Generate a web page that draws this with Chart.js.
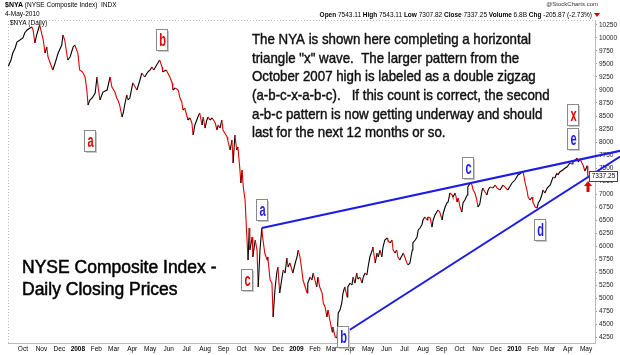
<!DOCTYPE html>
<html><head><meta charset="utf-8">
<script src="https://cdn.jsdelivr.net/npm/chart.js@4.4.1/dist/chart.umd.min.js"></script>
<style>html,body{margin:0;padding:0;background:#fff;}#wrap{width:620px;height:355px;}</style>
</head><body><div id="wrap"><canvas id="c" width="620" height="355"></canvas></div>
<script>
const dates = [
'2007-09-06','2007-09-11','2007-09-14','2007-09-18','2007-09-21','2007-09-26','2007-10-01','2007-10-04','2007-10-08','2007-10-13',
'2007-10-16','2007-10-18','2007-10-21','2007-10-24','2007-10-29','2007-11-02','2007-11-04','2007-11-07','2007-11-10','2007-11-12',
'2007-11-15','2007-11-20','2007-11-24','2007-11-29','2007-12-05','2007-12-07','2007-12-10','2007-12-15','2007-12-19','2007-12-24',
'2007-12-27','2007-12-30','2008-01-01','2008-01-04','2008-01-09','2008-01-13','2008-01-16','2008-01-18','2008-01-21','2008-01-25',
'2008-01-30','2008-02-02','2008-02-04','2008-02-07','2008-02-12','2008-02-19','2008-02-24','2008-02-27','2008-03-03','2008-03-06',
'2008-03-08','2008-03-11','2008-03-15','2008-03-17','2008-03-20','2008-03-23','2008-03-25','2008-03-28','2008-04-02','2008-04-06',
'2008-04-09','2008-04-14','2008-04-17','2008-04-22','2008-04-27','2008-05-01','2008-05-04','2008-05-07','2008-05-12','2008-05-17',
'2008-05-21','2008-05-22','2008-05-28','2008-06-03','2008-06-07','2008-06-08','2008-06-12','2008-06-17','2008-06-20','2008-06-23',
'2008-06-25','2008-06-28','2008-07-02','2008-07-03','2008-07-07','2008-07-10','2008-07-12','2008-07-15','2008-07-20','2008-07-23',
'2008-07-27','2008-07-29','2008-08-01','2008-08-04','2008-08-06','2008-08-09','2008-08-13','2008-08-18','2008-08-21','2008-08-23',
'2008-08-26','2008-08-29','2008-08-31','2008-09-03','2008-09-07','2008-09-08','2008-09-12','2008-09-15','2008-09-17','2008-09-20',
'2008-09-23','2008-09-25','2008-09-28','2008-09-30','2008-10-02','2008-10-04','2008-10-07','2008-10-10','2008-10-12','2008-10-14',
'2008-10-15','2008-10-19','2008-10-20','2008-10-24','2008-10-27','2008-10-29','2008-11-01','2008-11-04','2008-11-06','2008-11-09',
'2008-11-13','2008-11-14','2008-11-18','2008-11-21','2008-11-23','2008-11-26','2008-11-29','2008-12-01','2008-12-04','2008-12-08',
'2008-12-10','2008-12-13','2008-12-16','2008-12-18','2008-12-21','2008-12-26','2008-12-30','2009-01-02','2009-01-04','2009-01-07',
'2009-01-10','2009-01-12','2009-01-19','2009-01-20','2009-01-24','2009-01-27','2009-01-29','2009-02-01','2009-02-04','2009-02-06',
'2009-02-09','2009-02-13','2009-02-15','2009-02-18','2009-02-21','2009-02-23','2009-02-26','2009-03-02','2009-03-03','2009-03-07',
'2009-03-10','2009-03-12','2009-03-15','2009-03-18','2009-03-20','2009-03-23','2009-03-27','2009-03-28','2009-04-01','2009-04-04',
'2009-04-06','2009-04-09','2009-04-12','2009-04-14','2009-04-17','2009-04-21','2009-04-23','2009-04-26','2009-04-29','2009-05-01',
'2009-05-04','2009-05-08','2009-05-09','2009-05-13','2009-05-16','2009-05-18','2009-05-21','2009-05-24','2009-05-26','2009-05-29',
'2009-06-02','2009-06-03','2009-06-07','2009-06-10','2009-06-12','2009-06-15','2009-06-18','2009-06-20','2009-06-23','2009-06-29',
'2009-07-02','2009-07-05','2009-07-07','2009-07-10','2009-07-14','2009-07-15','2009-07-19','2009-07-22','2009-07-24','2009-07-27',
'2009-07-30','2009-08-01','2009-08-04','2009-08-08','2009-08-09','2009-08-13','2009-08-16','2009-08-18','2009-08-21','2009-08-24',
'2009-08-26','2009-08-29','2009-09-02','2009-09-04','2009-09-07','2009-09-10','2009-09-12','2009-09-15','2009-09-19','2009-09-20',
'2009-09-24','2009-09-27','2009-09-29','2009-10-02','2009-10-05','2009-10-07','2009-10-10','2009-10-14','2009-10-15','2009-10-19',
'2009-10-22','2009-10-24','2009-10-27','2009-10-30','2009-11-01','2009-11-04','2009-11-08','2009-11-09','2009-11-13','2009-11-16',
'2009-11-18','2009-11-21','2009-11-26','2009-11-30','2009-12-03','2009-12-08','2009-12-13','2009-12-16','2009-12-21','2009-12-25',
'2009-12-28','2010-01-02','2010-01-07','2010-01-10','2010-01-14','2010-01-16','2010-01-19','2010-01-22','2010-01-24','2010-01-27',
'2010-01-31','2010-02-01','2010-02-05','2010-02-08','2010-02-10','2010-02-13','2010-02-16','2010-02-18','2010-02-21','2010-02-25',
'2010-03-02','2010-03-05','2010-03-07','2010-03-10','2010-03-13','2010-03-15','2010-03-18','2010-03-23','2010-03-27','2010-03-30',
'2010-04-04','2010-04-08','2010-04-09','2010-04-13','2010-04-16','2010-04-18','2010-04-21','2010-04-24','2010-04-26','2010-04-29',
'2010-05-03','2010-05-04'
];
const closes = [
9442,9577,9711,9808,9923,9961,10000,10096,10154,10192,
10211,10154,9904,10058,10250,10058,9961,9711,9827,9635,
9538,9385,9519,9711,9865,10058,9961,9577,9635,9827,
9865,9769,9711,9385,9346,9250,9000,8711,8808,8846,
8942,9250,9058,8808,8961,9000,9250,9058,8961,8846,
8808,8711,8481,8558,8750,8904,8808,8846,9135,9058,
9000,9192,9327,9250,9346,9385,9442,9385,9481,9577,
9442,9346,9385,9250,9135,9000,9038,9000,8846,8769,
8615,8654,8481,8423,8461,8365,8135,8327,8481,8558,
8327,8481,8269,8423,8481,8423,8461,8365,8231,8327,
8269,8423,8231,8173,8096,8038,7846,8038,7596,8135,
7846,7904,7519,7212,7462,7135,6885,6173,5731,6346,
5923,6173,5789,6115,5923,5212,5923,6346,6115,5865,
5731,5789,5346,5288,4635,5154,5481,5596,5096,5404,
5539,5481,5769,5596,5673,5481,5673,5789,5923,5789,
5539,5346,5096,5288,5404,5346,5481,5346,5212,5404,
5212,5096,4904,4827,4635,4769,4577,4346,4442,4250,
4231,4712,4769,4904,5096,5212,5019,5212,5288,5250,
5404,5288,5481,5365,5404,5288,5404,5481,5442,5596,
5789,5923,5981,5673,5865,5789,5923,5789,5981,6115,
6154,6115,6058,6115,5923,5865,5923,5789,5731,5865,
5769,5673,5635,5673,5923,6058,6115,6173,6308,6346,
6404,6500,6558,6500,6558,6539,6365,6500,6596,6654,
6692,6654,6500,6635,6750,6827,6846,7019,6981,6942,
7019,6846,6923,6750,6654,6827,6885,6981,7135,7212,
7173,7077,7019,6885,6750,6808,7077,7115,7038,6981,
7077,7135,7115,7173,7115,7077,7173,7135,7077,7154,
7212,7269,7365,7385,7423,7404,7212,7077,6942,6885,
6942,6846,6750,6731,6827,6885,6981,7077,7019,7115,
7173,7269,7327,7308,7404,7365,7423,7462,7500,7519,
7596,7577,7615,7654,7692,7615,7673,7596,7558,7442,
7543.11,7337.25
];
const monthTickDates = ['2007-10-01','2007-11-01','2007-12-01','2008-01-01','2008-02-01','2008-03-01','2008-04-01','2008-05-01','2008-06-01','2008-07-01','2008-08-01','2008-09-01','2008-10-01','2008-11-01','2008-12-01','2009-01-01','2009-02-01','2009-03-01','2009-04-01','2009-05-01','2009-06-01','2009-07-01','2009-08-01','2009-09-01','2009-10-01','2009-11-01','2009-12-01','2010-01-01','2010-02-01','2010-03-01','2010-04-01','2010-05-01'];
const monthTickLabels = ['Oct','Nov','Dec','2008','Feb','Mar','Apr','May','Jun','Jul','Aug','Sep','Oct','Nov','Dec','2009','Feb','Mar','Apr','May','Jun','Jul','Aug','Sep','Oct','Nov','Dec','2010','Feb','Mar','Apr','May'];
const priceTicks = [4250,4500,4750,5000,5250,5500,5750,6000,6250,6500,6750,7000,7250,7500,7750,8000,8250,8500,8750,9000,9250,9500,9750,10000,10250];
const upperTrendDates = ['2008-11-04','2010-06-27'];
const upperTrendValues = [6346, 7830];
const lowerTrendDates = ['2009-03-10','2010-06-27'];
const lowerTrendValues = [4231, 7720];
const waveText = ['a','b','c','x','a','b','c','d','e'];
const waveDates = ['2008-01-21','2008-05-21','2008-10-10','2010-04-09','2008-11-04','2009-03-20','2009-10-15','2010-02-13','2010-04-09'];
const waveValues = [8019, 9961, 5346, 8519, 6692, 4250, 7500, 6308, 8058];
const waveDegree = ['red','red','red','red','blue','blue','blue','blue','blue'];
const lastClose = 7337.25;
const lastDate = '2010-05-04';
const arrowTipValue = 7250;
const headerLeft = ['$NYA', ' (NYSE Composite Index)  INDX'];
const headerDate = '4-May-2010';
const headerRight = [['Open',' 7543.11 '],['High',' 7543.11 '],['Low',' 7307.82 '],['Close',' 7337.25 '],['Volume',' 6.8B '],['Chg',' -205.87 (-2.73%)']];
const noteLines = [
'The NYA is shown here completing a horizontal',
'triangle "x" wave.  The larger pattern from the',
'October 2007 high is labeled as a double zigzag',
'(a-b-c-x-a-b-c).   If this count is correct, the second',
'a-b-c pattern is now getting underway and should',
'last for the next 12 months or so.'
];
const titleLines = ['NYSE Composite Index -', 'Daily Closing Prices'];

const T = d => Date.parse(d);
const RED = '#e00000', BLUE = '#1c1ce6';
const FONT = 'Liberation Sans, Arial, sans-serif';

const annot = {
  id: 'annot',
  afterDatasetsDraw(chart) {
    const ctx = chart.ctx, xs = chart.scales.x, ys = chart.scales.y, a = chart.chartArea;
    ctx.save();
    ctx.strokeStyle = '#bbb'; ctx.lineWidth = 1; ctx.setLineDash([1,2]);
    ctx.beginPath(); ctx.moveTo(a.left + 0.5, a.bottom); ctx.lineTo(a.left + 0.5, a.top + 0.5); ctx.lineTo(a.right, a.top + 0.5); ctx.stroke();
    ctx.setLineDash([]);
    ctx.fillStyle = '#000'; ctx.textBaseline = 'middle'; ctx.textAlign = 'left';
    ctx.font = 'bold 7px ' + FONT; ctx.fillText(headerLeft[0], 5, 5);
    let w = ctx.measureText(headerLeft[0]).width;
    ctx.font = '6.5px ' + FONT; ctx.fillText(headerLeft[1], 5 + w, 5);
    ctx.fillText(headerDate, 5, 14);
    ctx.fillText('$NYA (Daily)', a.left + 2, a.top + 3);
    ctx.textAlign = 'right'; ctx.font = '6px ' + FONT; ctx.fillStyle = '#333';
    ctx.fillText('@StockCharts.com', 598, 4);
    let parts = [];
    headerRight.forEach(p => { parts.push(['bold 6.5px ' + FONT, p[0]]); parts.push(['6.5px ' + FONT, p[1]]); });
    let total = 0;
    parts.forEach(p => { ctx.font = p[0]; total += ctx.measureText(p[1]).width; });
    let x0 = 592 - total; ctx.textAlign = 'left'; ctx.fillStyle = '#000';
    parts.forEach(p => { ctx.font = p[0]; ctx.fillText(p[1], x0, 15); x0 += ctx.measureText(p[1]).width; });
    ctx.fillStyle = RED; ctx.beginPath(); ctx.moveTo(594, 13); ctx.lineTo(600, 13); ctx.lineTo(597, 17); ctx.closePath(); ctx.fill();
    // paragraph, slightly heavier than regular weight
    ctx.fillStyle = '#111'; ctx.strokeStyle = '#111'; ctx.lineWidth = 0.45; ctx.textBaseline = 'alphabetic';
    ctx.font = '15px ' + FONT;
    noteLines.forEach((t, i) => {
      ctx.save(); ctx.translate(252, 44 + i * 18.66); ctx.scale(0.886, 1); ctx.fillText(t, 0, 0); ctx.strokeText(t, 0, 0); ctx.restore();
    });
    ctx.font = '17.5px ' + FONT; ctx.fillStyle = '#000'; ctx.strokeStyle = '#000'; ctx.lineWidth = 0.5;
    titleLines.forEach((t, i) => { ctx.fillText(t, 22, 273 + i * 22); ctx.strokeText(t, 22, 273 + i * 22); });
    waveText.forEach((t, i) => {
      const cx = Math.round(xs.getPixelForValue(T(waveDates[i])));
      const cy = Math.round(ys.getPixelForValue(waveValues[i]));
      ctx.fillStyle = '#c8c8c8'; ctx.fillRect(cx - 4, cy - 9, 11, 21);
      ctx.fillStyle = '#fff'; ctx.fillRect(cx - 5, cy - 10, 11, 21);
      ctx.strokeStyle = '#8a8a8a'; ctx.lineWidth = 1; ctx.strokeRect(cx - 5.5, cy - 10.5, 11, 21);
      ctx.fillStyle = waveDegree[i] === 'red' ? RED : BLUE;
      ctx.save(); ctx.translate(cx + 0.5, cy + 1); ctx.scale(0.85, 1.45);
      ctx.font = 'bold 13px ' + FONT; ctx.textAlign = 'center'; ctx.textBaseline = 'middle';
      ctx.fillText(t, 0, 0); ctx.restore();
    });
    const ax = Math.round(xs.getPixelForValue(T(lastDate))), ay = ys.getPixelForValue(arrowTipValue);
    ctx.fillStyle = RED; ctx.beginPath();
    ctx.moveTo(ax, ay); ctx.lineTo(ax + 4, ay + 5); ctx.lineTo(ax + 1.5, ay + 5); ctx.lineTo(ax + 1.5, ay + 11);
    ctx.lineTo(ax - 1.5, ay + 11); ctx.lineTo(ax - 1.5, ay + 5); ctx.lineTo(ax - 4, ay + 5); ctx.closePath(); ctx.fill();
    const py = Math.round(ys.getPixelForValue(lastClose));
    ctx.fillStyle = '#fff'; ctx.fillRect(589, py - 4.5, 29, 10);
    ctx.strokeStyle = '#444'; ctx.lineWidth = 1; ctx.strokeRect(589.5, py - 4.5, 28, 10);
    ctx.fillStyle = '#000'; ctx.font = '6.5px ' + FONT; ctx.textAlign = 'center'; ctx.textBaseline = 'middle';
    ctx.fillText(String(lastClose), 603.5, py + 0.5);
    ctx.restore();
  }
};

new Chart(document.getElementById('c'), {
  type: 'line',
  data: {
    datasets: [
      { data: upperTrendDates.map((d, i) => ({x: T(d), y: upperTrendValues[i]})), borderColor: BLUE, borderWidth: 2, pointRadius: 0, clip: false },
      { data: lowerTrendDates.map((d, i) => ({x: T(d), y: lowerTrendValues[i]})), borderColor: BLUE, borderWidth: 2, pointRadius: 0, clip: false },
      { data: dates.map((d, i) => ({x: T(d), y: closes[i]})), borderWidth: 1.1, pointRadius: 0, tension: 0,
        segment: { borderColor: c => c.p1.parsed.y < c.p0.parsed.y ? RED : '#000' } }
    ]
  },
  options: {
    responsive: false, animation: false, devicePixelRatio: 1,
    layout: { padding: { left: 8, top: 20, right: 0, bottom: 0 } },
    plugins: { legend: { display: false }, tooltip: { enabled: false } },
    scales: {
      x: {
        type: 'linear', min: T('2007-09-06'), max: T('2010-05-16'),
        afterBuildTicks: s => { s.ticks = monthTickDates.map(d => ({ value: T(d) })); },
        afterFit: s => { s.height = 12; },
        grid: { display: false, drawTicks: false, tickLength: 0 },
        border: { display: true, color: '#bbb', dash: [1, 2] },
        ticks: { autoSkip: false, maxRotation: 0, minRotation: 0, padding: 2, color: '#000',
          callback: (v, i) => monthTickLabels[i],
          font: c => ({ family: FONT, size: 6.5, weight: /^\d{4}$/.test(monthTickLabels[c.index]) ? 'bold' : 'normal' }) }
      },
      y: {
        type: 'linear', position: 'right', min: 4135, max: 10346,
        afterBuildTicks: s => { s.ticks = priceTicks.map(v => ({ value: v })); },
        afterFit: s => { s.width = 25; },
        grid: { display: true, drawOnChartArea: false, tickLength: 2, color: '#999' },
        border: { display: true, color: '#bbb', dash: [1, 2] },
        ticks: { padding: 2, color: '#222', font: { family: FONT, size: 6.5 }, callback: v => String(v) }
      }
    }
  },
  plugins: [annot]
});
</script></body></html>
